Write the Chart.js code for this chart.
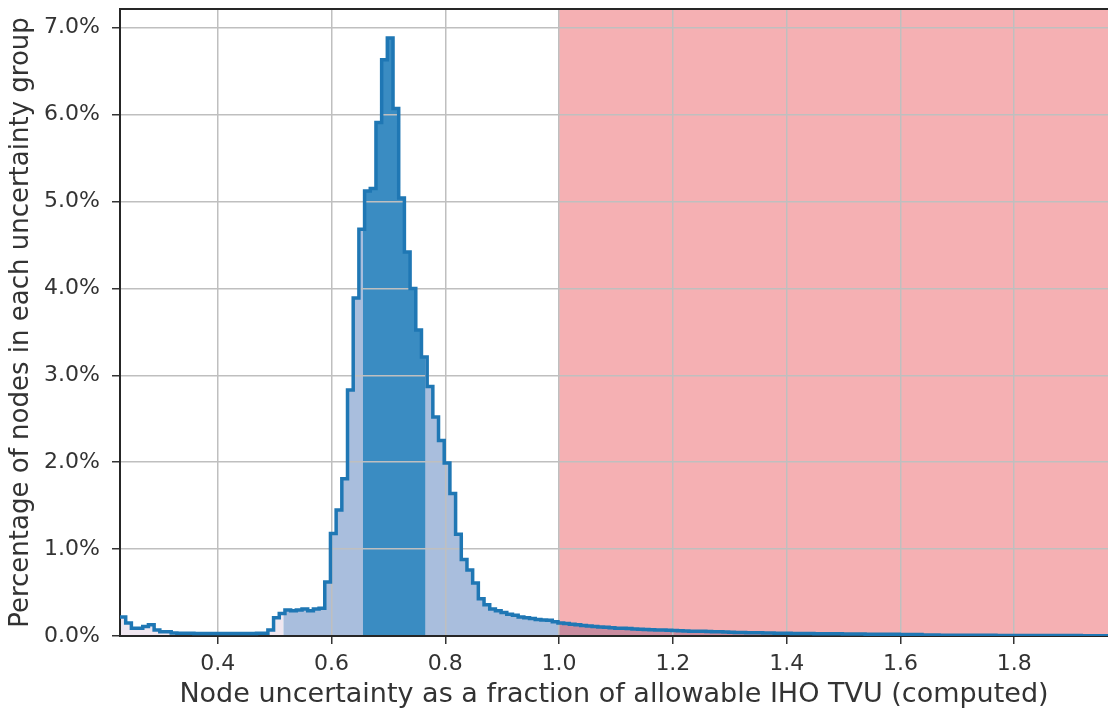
<!DOCTYPE html>
<html>
<head>
<meta charset="utf-8">
<script src="https://cdn.jsdelivr.net/npm/chart.js@4.4.1/dist/chart.umd.min.js"></script>
<style>
  html, body { margin: 0; padding: 0; background: #fff; }
  #wrap { width: 1108px; height: 715px; position: relative; }
</style>
</head>
<body>
<div id="wrap"><canvas id="histChart"></canvas></div>
<script>
// histogram bins: left edge of first bin and bin width
const binStart = 0.228;
const binWidth = 0.01;

// percentage of nodes in each bin
const binValues = [
  0.22, 0.15, 0.09, 0.09, 0.11, 0.13, 0.07, 0.05, 0.05,
  0.035, 0.033, 0.032, 0.031, 0.03, 0.03, 0.03, 0.03, 0.03, 0.03, 0.03, 0.03, 0.03, 0.03, 0.03, 0.031, 0.033,
  0.07, 0.21, 0.26, 0.30, 0.29, 0.30, 0.31, 0.29, 0.31, 0.32,
  0.62, 1.18, 1.45, 1.81, 2.83, 3.89, 4.68, 5.12, 5.15, 5.91, 6.63, 6.88,
  6.07, 5.04, 4.42, 4.00, 3.52, 3.21, 2.87, 2.52, 2.25, 1.99, 1.64, 1.17, 0.88, 0.76, 0.61, 0.43, 0.36,
  0.31, 0.29, 0.27, 0.25, 0.24, 0.22, 0.21, 0.20, 0.19, 0.185, 0.18, 0.165, 0.15, 0.145, 0.135,
  0.13, 0.12, 0.115, 0.11, 0.105, 0.10, 0.095, 0.09, 0.088, 0.085, 0.08, 0.078, 0.075, 0.072, 0.07, 0.068, 0.066, 0.063, 0.06, 0.058,
  0.056, 0.055, 0.054, 0.052, 0.05, 0.048, 0.046, 0.044,
  0.04, 0.039, 0.038, 0.037, 0.036, 0.035, 0.034, 0.033, 0.032, 0.031, 0.03, 0.03, 0.029,
  0.028, 0.027, 0.027, 0.026, 0.025, 0.025, 0.024, 0.023, 0.023, 0.022, 0.021, 0.021, 0.02, 0.02, 0.019, 0.019, 0.018, 0.018, 0.017, 0.016,
  0.012, 0.011, 0.011, 0.01, 0.01, 0.01, 0.009, 0.009, 0.009, 0.008, 0.008, 0.008, 0.008, 0.007, 0.007, 0.007, 0.007,
  0.006, 0.006, 0.006, 0.006, 0.006, 0.005, 0.005, 0.005, 0.005, 0.005, 0.005, 0.004, 0.004, 0.004, 0.004, 0.004
];

// shaded ranges
const lightStart = 0.515;
const darkStart = 0.655;
const darkEnd = 0.765;
const tvuLimit = 1.0;

// axes
const xMin = 0.228, xMax = 1.965;
const yMin = 0, yMax = 7.215;
const xTickValues = [0.4, 0.6, 0.8, 1.0, 1.2, 1.4, 1.6, 1.8];
const yTickValues = [0, 1, 2, 3, 4, 5, 6, 7];

const xTitle = 'Node uncertainty as a fraction of allowable IHO TVU (computed)';
const yTitle = 'Percentage of nodes in each uncertainty group';

const binEnd = binStart + binValues.length * binWidth;

function valueAt(x) {
    let i = Math.floor((x - binStart) / binWidth + 1e-9);
    if (i < 0) i = 0;
    if (i > binValues.length - 1) i = binValues.length - 1;
    return binValues[i];
}

// step points between a and b (value holds until next point)
function stepPoints(a, b) {
    const pts = [{x: a, y: valueAt(a)}];
    for (let i = 0; i < binValues.length; i++) {
        const e = binStart + i * binWidth;
        if (e > a + 1e-9 && e < b - 1e-9) pts.push({x: e, y: binValues[i]});
    }
    pts.push({x: b, y: valueAt(b - 1e-9)});
    return pts;
}

function fillSet(data, color) {
    return {
        data: data,
        stepped: true,
        fill: 'origin',
        backgroundColor: color,
        borderColor: 'rgba(0,0,0,0)',
        borderWidth: 0,
        pointRadius: 0
    };
}

// no extra room for half tick labels at the ends
function noEdgePadding(s) {
    s.paddingTop = 0;
    s.paddingBottom = 0;
    s.paddingLeft = 0;
    s.paddingRight = 0;
}

Chart.defaults.font.family = 'DejaVu Sans';
Chart.defaults.color = '#333333';

const ctx = document.getElementById('histChart').getContext('2d');
const chart = new Chart(ctx, {
    type: 'line',
    data: {
        datasets: [
            {
                data: stepPoints(binStart, binEnd),
                stepped: true,
                fill: false,
                borderColor: '#1f77b4',
                borderWidth: 3.5,
                borderJoinStyle: 'miter',
                pointRadius: 0
            },
            fillSet(stepPoints(darkStart, darkEnd), '#3a8cc2'),
            fillSet(stepPoints(lightStart, tvuLimit), '#a9bedd'),
            fillSet(stepPoints(binStart, lightStart), '#f0e7f0'),
            fillSet(stepPoints(tvuLimit, binEnd), '#c98c9f'),
            // area beyond the allowable limit
            fillSet([{x: tvuLimit, y: yMax}, {x: xMax, y: yMax}], '#f5b0b3')
        ]
    },
    options: {
        responsive: true,
        maintainAspectRatio: false,
        animation: false,
        events: [],
        layout: { padding: { top: 9, right: 0, bottom: 0, left: 0 } },
        plugins: {
            legend: { display: false },
            tooltip: { enabled: false },
            filler: { drawTime: 'beforeDraw' }
        },
        scales: {
            x: {
                type: 'linear',
                position: 'bottom',
                min: xMin,
                max: xMax,
                afterBuildTicks: s => { s.ticks = xTickValues.map(v => ({value: v})); },
                afterFit: s => { s.height = 79; noEdgePadding(s); },
                ticks: {
                    callback: v => v.toFixed(1),
                    font: { size: 22 },
                    padding: 7,
                    maxRotation: 0
                },
                grid: { color: '#bfbfbf', lineWidth: 1.5, tickLength: 8, tickColor: '#333333', tickWidth: 1.5 },
                border: { color: '#262626', width: 2 },
                title: { display: true, text: xTitle, font: { size: 27 }, padding: { top: 2, bottom: 4 } }
            },
            xTop: {
                type: 'linear',
                position: 'top',
                min: xMin,
                max: xMax,
                afterFit: s => { s.height = 0; noEdgePadding(s); },
                ticks: { display: false },
                grid: { drawOnChartArea: false, drawTicks: false },
                border: { color: '#262626', width: 2 }
            },
            y: {
                type: 'linear',
                min: yMin,
                max: yMax,
                afterBuildTicks: s => { s.ticks = yTickValues.map(v => ({value: v})); },
                afterFit: s => { s.width = 120; noEdgePadding(s); },
                ticks: {
                    callback: v => v.toFixed(1) + '%',
                    font: { size: 22 },
                    padding: 12
                },
                grid: { color: '#bfbfbf', lineWidth: 1.5, tickLength: 8, tickColor: '#333333', tickWidth: 1.5 },
                border: { color: '#262626', width: 2 },
                title: { display: true, text: yTitle, font: { size: 26 }, padding: { top: 6, bottom: 4 } }
            }
        }
    }
});
</script>
</body>
</html>
